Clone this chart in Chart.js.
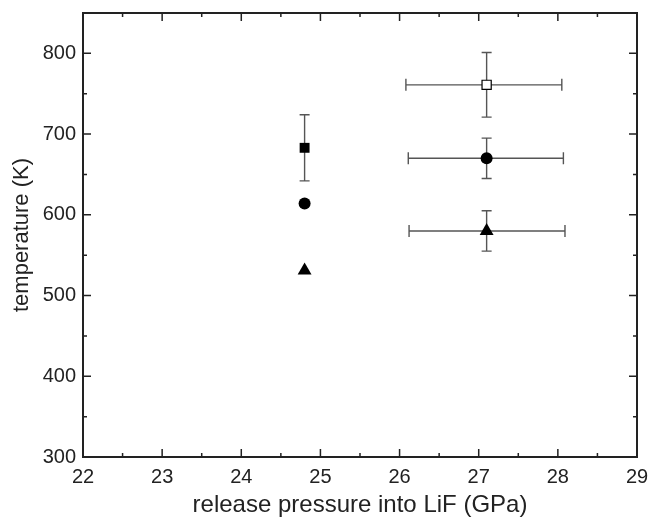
<!DOCTYPE html>
<html>
<head>
<meta charset="utf-8">
<script src="https://cdn.jsdelivr.net/npm/chart.js@4/dist/chart.umd.min.js"></script>
<style>
    body { margin: 0; background: #fff; }
    #chart-container { width: 650px; height: 517px; }
</style>
</head>
<body>
<div id="chart-container"><canvas id="chart"></canvas></div>
<script>
// Axis ticks
const xTickValues = [22, 23, 24, 25, 26, 27, 28, 29];
const yTickValues = [300, 400, 500, 600, 700, 800];

// Filled square
const filledSquareX = [24.8];
const filledSquareY = [683];
const filledSquareYErr = [41];

// Open square
const openSquareX = [27.1];
const openSquareY = [761];
const openSquareYErr = [40];
const openSquareXLow = [26.08];
const openSquareXHigh = [28.05];

// Circles
const circleX = [24.8, 27.1];
const circleY = [614, 670];
const circleYErr = [0, 25];
const circleXLow = [null, 26.11];
const circleXHigh = [null, 28.07];

// Triangles
const triangleX = [24.8, 27.1];
const triangleY = [531, 580];
const triangleYErr = [0, 25];
const triangleXLow = [null, 26.12];
const triangleXHigh = [null, 28.09];

const fontFamily = "'Liberation Sans', Arial, sans-serif";
const inkColor = '#222';

function toPoints(xs, ys) {
    return xs.map((x, i) => ({ x: x, y: ys[i] }));
}

// Error bars, drawn under the markers
const errorBarPlugin = {
    id: 'errorBars',
    beforeDatasetsDraw(chart) {
        const ctx = chart.ctx;
        const xScale = chart.scales.x;
        const yScale = chart.scales.y;
        ctx.save();
        ctx.strokeStyle = '#555';
        ctx.lineWidth = 1.4;
        chart.data.datasets.forEach(ds => {
            ds.data.forEach((p, i) => {
                const px = xScale.getPixelForValue(p.x);
                const py = yScale.getPixelForValue(p.y);
                const yErr = ds.yErr ? ds.yErr[i] : 0;
                if (yErr) {
                    const top = yScale.getPixelForValue(p.y + yErr);
                    const bottom = yScale.getPixelForValue(p.y - yErr);
                    ctx.beginPath();
                    ctx.moveTo(px, top); ctx.lineTo(px, bottom);
                    ctx.moveTo(px - 5, top); ctx.lineTo(px + 5, top);
                    ctx.moveTo(px - 5, bottom); ctx.lineTo(px + 5, bottom);
                    ctx.stroke();
                }
                if (ds.xLow && ds.xLow[i] != null) {
                    const left = xScale.getPixelForValue(ds.xLow[i]);
                    const right = xScale.getPixelForValue(ds.xHigh[i]);
                    ctx.beginPath();
                    ctx.moveTo(left, py); ctx.lineTo(right, py);
                    ctx.moveTo(left, py - 6); ctx.lineTo(left, py + 6);
                    ctx.moveTo(right, py - 6); ctx.lineTo(right, py + 6);
                    ctx.stroke();
                }
            });
        });
        ctx.restore();
    }
};

// Frame with inward ticks on all four sides (major + minor)
const framePlugin = {
    id: 'frame',
    afterDraw(chart) {
        const ctx = chart.ctx;
        const area = chart.chartArea;
        const xScale = chart.scales.x;
        const yScale = chart.scales.y;
        ctx.save();
        ctx.strokeStyle = inkColor;
        ctx.lineWidth = 1.5;
        for (let i = 0; i < xTickValues.length; i++) {
            const v = xTickValues[i];
            const px = xScale.getPixelForValue(v);
            ctx.beginPath();
            ctx.moveTo(px, area.bottom); ctx.lineTo(px, area.bottom - 8);
            ctx.moveTo(px, area.top); ctx.lineTo(px, area.top + 8);
            if (i < xTickValues.length - 1) {
                const mx = xScale.getPixelForValue(v + 0.5);
                ctx.moveTo(mx, area.bottom); ctx.lineTo(mx, area.bottom - 4);
                ctx.moveTo(mx, area.top); ctx.lineTo(mx, area.top + 4);
            }
            ctx.stroke();
        }
        for (let i = 0; i < yTickValues.length; i++) {
            const v = yTickValues[i];
            const py = yScale.getPixelForValue(v);
            const my = yScale.getPixelForValue(v + 50);
            ctx.beginPath();
            ctx.moveTo(area.left, py); ctx.lineTo(area.left + 8, py);
            ctx.moveTo(area.right, py); ctx.lineTo(area.right - 8, py);
            ctx.moveTo(area.left, my); ctx.lineTo(area.left + 4, my);
            ctx.moveTo(area.right, my); ctx.lineTo(area.right - 4, my);
            ctx.stroke();
        }
        ctx.lineWidth = 2;
        ctx.strokeRect(area.left, area.top, area.right - area.left, area.bottom - area.top);
        ctx.restore();
    }
};

const chart = new Chart(document.getElementById('chart'), {
    type: 'scatter',
    data: {
        datasets: [
            {
                label: 'filled square',
                data: toPoints(filledSquareX, filledSquareY),
                yErr: filledSquareYErr,
                pointStyle: 'rect',
                pointRadius: 7,
                backgroundColor: '#000',
                borderColor: '#000',
                borderWidth: 0
            },
            {
                label: 'open square',
                data: toPoints(openSquareX, openSquareY),
                yErr: openSquareYErr,
                xLow: openSquareXLow,
                xHigh: openSquareXHigh,
                pointStyle: 'rect',
                pointRadius: 6.5,
                backgroundColor: '#fff',
                borderColor: '#000',
                borderWidth: 1.2
            },
            {
                label: 'circle',
                data: toPoints(circleX, circleY),
                yErr: circleYErr,
                xLow: circleXLow,
                xHigh: circleXHigh,
                pointStyle: 'circle',
                pointRadius: 6,
                backgroundColor: '#000',
                borderColor: '#000',
                borderWidth: 0
            },
            {
                label: 'triangle',
                data: toPoints(triangleX, triangleY),
                yErr: triangleYErr,
                xLow: triangleXLow,
                xHigh: triangleXHigh,
                pointStyle: 'triangle',
                pointRadius: 8,
                backgroundColor: '#000',
                borderColor: '#000',
                borderWidth: 0
            }
        ]
    },
    options: {
        responsive: true,
        maintainAspectRatio: false,
        animation: false,
        layout: {
            padding: { top: 13, right: 13, left: 0, bottom: 0 }
        },
        plugins: {
            legend: { display: false },
            tooltip: { enabled: false }
        },
        elements: {
            point: { hoverRadius: 0 }
        },
        scales: {
            x: {
                type: 'linear',
                min: 22,
                max: 29,
                afterBuildTicks: scale => { scale.ticks = xTickValues.map(v => ({ value: v })); },
                afterFit: scale => {
                    scale.height = 60;
                    scale.paddingLeft = 0;
                    scale.paddingRight = 0;
                },
                grid: { display: false, drawTicks: false },
                border: { display: false },
                ticks: {
                    color: inkColor,
                    padding: 8,
                    maxRotation: 0,
                    font: { family: fontFamily, size: 20 }
                },
                title: {
                    display: true,
                    text: 'release pressure into LiF (GPa)',
                    color: inkColor,
                    padding: { top: 0, bottom: -3 },
                    font: { family: fontFamily, size: 24 }
                }
            },
            y: {
                type: 'linear',
                min: 300,
                max: 850,
                afterBuildTicks: scale => { scale.ticks = yTickValues.map(v => ({ value: v })); },
                afterFit: scale => {
                    scale.width = 83;
                    scale.paddingTop = 0;
                    scale.paddingBottom = 0;
                },
                grid: { display: false, drawTicks: false },
                border: { display: false },
                ticks: {
                    color: inkColor,
                    padding: 7,
                    font: { family: fontFamily, size: 20 }
                },
                title: {
                    display: true,
                    text: 'temperature (K)',
                    color: inkColor,
                    padding: { top: 9, bottom: 0 },
                    font: { family: fontFamily, size: 22 }
                }
            }
        }
    },
    plugins: [errorBarPlugin, framePlugin]
});
</script>
</body>
</html>
